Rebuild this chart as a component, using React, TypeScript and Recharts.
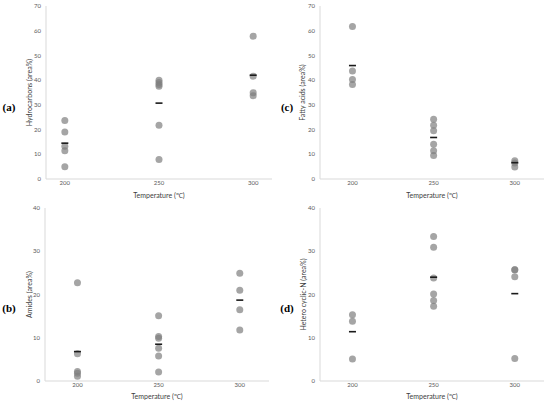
import { Scatter, ScatterChart, XAxis, YAxis } from "recharts";

const TEMPS = [200, 250, 300];

// readings per temperature (200, 250, 300 °C), area %
const hydrocarbons = [
  [23.7, 19.0, 13.3, 11.4, 5.0],
  [40.0, 39.0, 38.2, 37.5, 21.7, 7.9],
  [57.8, 41.6, 34.9, 33.7]
];
const fattyAcids = [
  [61.7, 43.7, 40.3, 38.2],
  [24.2, 21.7, 19.5, 14.1, 11.4, 9.5],
  [7.4, 6.5, 4.9]
];
const amides = [
  [22.7, 6.3, 2.2, 1.8, 1.1],
  [15.1, 10.3, 9.9, 7.6, 5.8, 2.1],
  [24.9, 21.0, 16.5, 11.8]
];
const heteroCyclicN = [
  [15.3, 13.8, 5.1],
  [33.4, 30.9, 23.8, 20.1, 18.6, 17.3],
  [25.7, 25.7, 24.1, 5.2]
];

// mean dashes as drawn
const hydrocarbonMeans = [14.5, 30.7, 42.0];
const fattyAcidMeans = [45.9, 16.8, 6.6];
const amideMeans = [6.8, 8.5, 18.7];
const heteroMeans = [11.4, 24.0, 20.2];

const TICKS_70 = [0, 10, 20, 30, 40, 50, 60, 70];
const TICKS_40 = [0, 10, 20, 30, 40];

const FONT = "Lato, 'Liberation Sans', sans-serif";
const AXIS_GREY = "#d9d9d9";

function renderDot(props: any) {
  return <circle cx={props.cx} cy={props.cy} r={3.5} fill="#7f7f7f" fillOpacity={0.7} />;
}

function renderDash(props: any) {
  return <rect x={props.cx - 3.5} y={props.cy - 0.8} width={7} height={1.6} fill="#1a1a1a" />;
}

type PanelProps = {
  left: number;
  top: number;
  height: number;
  margin: { top: number; right: number; bottom: number; left: number };
  yWidth: number;
  xHeight: number;
  xDomain: [number, number];
  yMax: number;
  yTicks: number[];
  yTitle: string;
  yTitleX: number;
  xTitleOffset: number;
  values: number[][];
  means: number[];
};

function Panel(p: PanelProps) {
  const points = TEMPS.flatMap((t, i) => p.values[i].map((v) => ({ x: t, y: v })));
  const meanPoints = TEMPS.map((t, i) => ({ x: t, y: p.means[i] }));
  return (
    <div style={{ position: "absolute", left: p.left, top: p.top }}>
      <ScatterChart width={275} height={p.height} margin={p.margin}>
        <XAxis
          type="number"
          dataKey="x"
          domain={p.xDomain}
          ticks={TEMPS}
          allowDataOverflow
          tickLine={false}
          tickSize={0}
          tickMargin={2}
          height={p.xHeight}
          axisLine={{ stroke: AXIS_GREY }}
          tick={{ fontSize: 6, fill: "#595959", fontFamily: FONT }}
          label={{
            value: "Temperature (℃)",
            position: "insideBottom",
            offset: p.xTitleOffset,
            fontSize: 7,
            fill: "#404040",
            fontFamily: FONT
          }}
        />
        <YAxis
          type="number"
          dataKey="y"
          domain={[0, p.yMax]}
          ticks={p.yTicks}
          tickLine={false}
          tickSize={0}
          tickMargin={5}
          width={p.yWidth}
          axisLine={{ stroke: AXIS_GREY }}
          tick={{ fontSize: 6, fill: "#595959", fontFamily: FONT }}
          label={{
            value: p.yTitle,
            angle: -90,
            position: "insideLeft",
            offset: p.yTitleX,
            fontSize: 7,
            fill: "#404040",
            fontFamily: FONT,
            style: { textAnchor: "middle" }
          }}
        />
        <Scatter data={points} shape={renderDot} isAnimationActive={false} />
        <Scatter data={meanPoints} shape={renderDash} isAnimationActive={false} />
      </ScatterChart>
    </div>
  );
}

function PanelLetter({ text, x, y }: { text: string; x: number; y: number }) {
  return (
    <div
      style={{
        position: "absolute",
        left: x,
        top: y,
        transform: "translate(-50%, -50%)",
        fontFamily: "'Liberation Serif', serif",
        fontWeight: "bold",
        fontSize: 11,
        color: "#000"
      }}
    >
      {text}
    </div>
  );
}

export default function App() {
  return (
    <div style={{ position: "absolute", left: 0, top: 0, width: 550, height: 405, background: "#fff" }}>
      <Panel
        left={0}
        top={0}
        height={200}
        margin={{ top: 6, right: 3, bottom: 0, left: 0 }}
        yWidth={46}
        xHeight={21}
        xDomain={[190, 310]}
        yMax={70}
        yTicks={TICKS_70}
        yTitle="Hydrocarbons (area%)"
        yTitleX={30}
        xTitleOffset={2.5}
        values={hydrocarbons}
        means={hydrocarbonMeans}
      />
      <Panel
        left={275}
        top={0}
        height={200}
        margin={{ top: 6, right: 6, bottom: 0, left: 0 }}
        yWidth={45}
        xHeight={21}
        xDomain={[180, 318]}
        yMax={70}
        yTicks={TICKS_70}
        yTitle="Fatty acids (area%)"
        yTitleX={28}
        xTitleOffset={2.5}
        values={fattyAcids}
        means={fattyAcidMeans}
      />
      <Panel
        left={0}
        top={200}
        height={205}
        margin={{ top: 8, right: 6, bottom: 0, left: 0 }}
        yWidth={45}
        xHeight={24}
        xDomain={[180, 318]}
        yMax={40}
        yTicks={TICKS_40}
        yTitle="Amides (area%)"
        yTitleX={30}
        xTitleOffset={5.8}
        values={amides}
        means={amideMeans}
      />
      <Panel
        left={275}
        top={200}
        height={205}
        margin={{ top: 8, right: 6, bottom: 0, left: 0 }}
        yWidth={45}
        xHeight={24}
        xDomain={[180, 318]}
        yMax={40}
        yTicks={TICKS_40}
        yTitle="Hetero cyclic-N (area%)"
        yTitleX={29}
        xTitleOffset={5.8}
        values={heteroCyclicN}
        means={heteroMeans}
      />
      <PanelLetter text="(a)" x={9} y={107} />
      <PanelLetter text="(c)" x={287} y={107} />
      <PanelLetter text="(b)" x={9} y={308} />
      <PanelLetter text="(d)" x={287} y={308} />
    </div>
  );
}
